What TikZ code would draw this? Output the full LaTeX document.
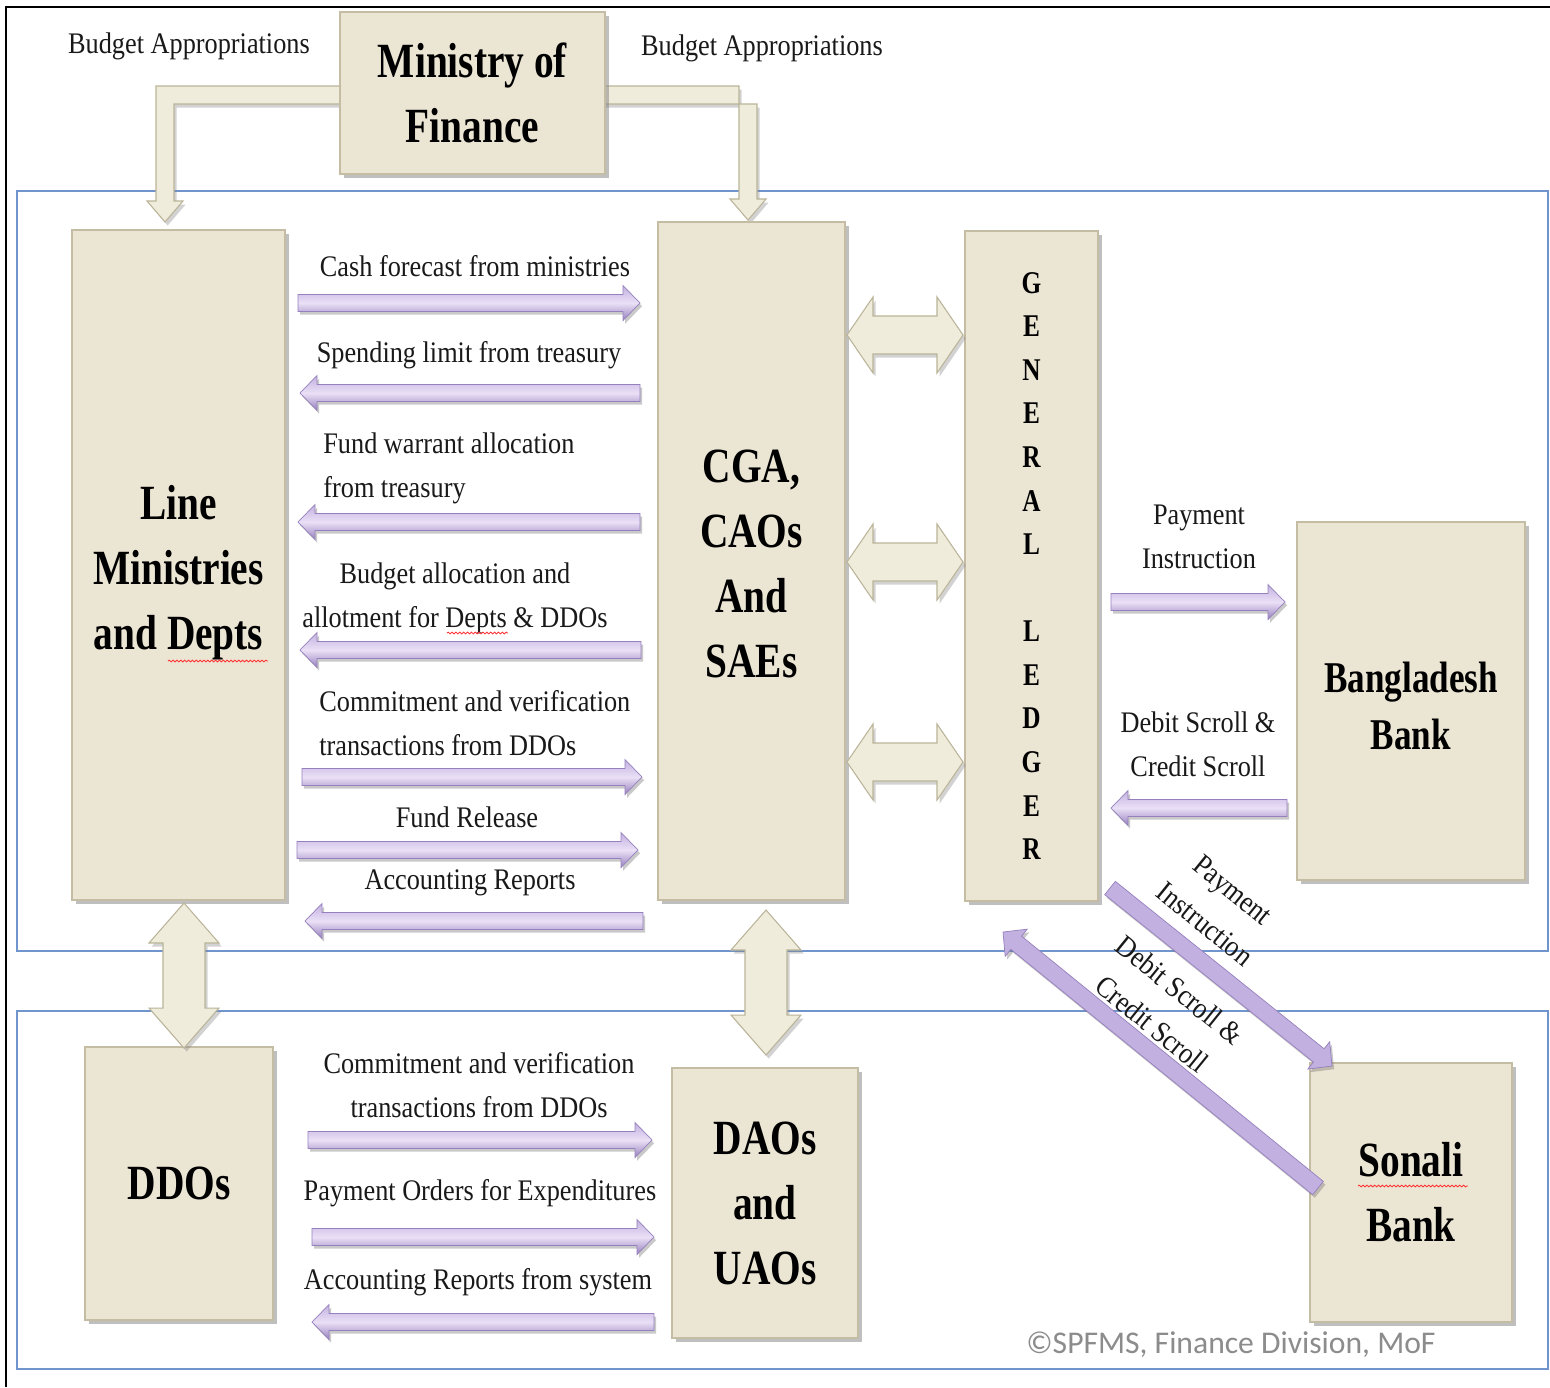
\documentclass[tikz,border=0pt]{standalone}
\usepackage{fontspec}
\setmainfont{Liberation Serif}
\newfontfamily\labfont[FakeStretch=0.88]{Liberation Serif}
\newfontfamily\ttlfont[FakeStretch=0.8]{Liberation Serif}
\newfontfamily\cpfont{Carlito}
\usetikzlibrary{calc,shadows,decorations.pathmorphing}
\definecolor{boxF}{RGB}{235,229,211}
\definecolor{boxB}{RGB}{196,189,164}
\definecolor{purL}{RGB}{234,224,246}
\definecolor{purM}{RGB}{194,176,224}
\definecolor{purD}{RGB}{150,128,190}
\definecolor{bgeF}{RGB}{240,236,220}
\definecolor{bgeB}{RGB}{186,180,152}
\definecolor{panB}{RGB}{112,148,204}
% block arrow: #1 style, #2 start, #3 end, #4 half shaft, #5 half head, #6 head length
\newcommand\blockarr[6]{%
  \coordinate (bah) at ($(#3)!#6!(#2)$);
  \path[#1] ($(#2)!#4!90:(#3)$) -- ($(bah)!#4!90:(#3)$) -- ($(bah)!#5!90:(#3)$) -- (#3)
    -- ($(bah)!#5!-90:(#3)$) -- ($(bah)!#4!-90:(#3)$) -- ($(#2)!#4!-90:(#3)$) -- cycle;}
% double block arrow
\newcommand\dblarr[6]{%
  \coordinate (dah) at ($(#2)!#6!(#3)$);
  \coordinate (dae) at ($(#3)!#6!(#2)$);
  \path[#1] (#2) -- ($(dah)!#5!90:(#3)$) -- ($(dah)!#4!90:(#3)$) -- ($(dae)!#4!90:(#3)$)
    -- ($(dae)!#5!90:(#3)$) -- (#3) -- ($(dae)!#5!-90:(#3)$) -- ($(dae)!#4!-90:(#3)$)
    -- ($(dah)!#4!-90:(#3)$) -- ($(dah)!#5!-90:(#3)$) -- cycle;}
\begin{document}
\begin{tikzpicture}[x=0.02cm,y=-0.02cm,
  box/.style={draw=boxB, line width=0.7pt, fill=boxF, inner sep=0pt, align=center,
    drop shadow={shadow xshift=2.2pt, shadow yshift=-2.5pt, opacity=0.5, fill=black!50}},
  ttl/.style={font=\ttlfont\bfseries\fontsize{28}{37}\selectfont},
  lab/.style={font=\labfont\fontsize{17}{25}\selectfont, inner sep=0pt, align=center, text=black!90},
  parr/.style={draw=purD, line width=0.4pt, top color=purM, bottom color=purD, middle color=purL,
    drop shadow={shadow xshift=1.2pt, shadow yshift=-1.8pt, opacity=0.35, fill=black!60}},
  pdiag/.style={draw=purD, line width=0.4pt, fill=purM,
    drop shadow={shadow xshift=1.2pt, shadow yshift=-1.8pt, opacity=0.35, fill=black!60}},
  barr/.style={draw=bgeB, line width=0.6pt, fill=bgeF,
    drop shadow={shadow xshift=1.5pt, shadow yshift=-2pt, opacity=0.35, fill=black!50}},
  panel/.style={draw=panB, line width=1.3pt},
  squig/.style={draw=red!80, line width=0.5pt, decorate, decoration={snake, amplitude=0.5pt, segment length=2.2pt}}
]
\useasboundingbox (0,0) rectangle (1550,1387);
\fill[white] (0,0) rectangle (1550,1387);
% frame and panels
\draw[line width=1.7pt] (6,1387) -- (6,7) -- (1550,7);
\draw[panel] (17,191) rectangle (1548,951);
\draw[panel] (17,1011) rectangle (1548,1369);

% elbow arrows from Ministry of Finance
\coordinate (elbL) at (165,222);
\coordinate (elbR) at (748,220);
\path[barr] (345,86) -- (156,86) -- (156,201) -- (147,201) -- (elbL) -- (183,201) -- (174,201) -- (174,104) -- (345,104) -- cycle;
\path[barr] (600,86) -- (739,86) -- (739,199) -- (730,199) -- (elbR) -- (766,199) -- (757,199) -- (757,104) -- (600,104) -- cycle;

% boxes
\node[box, ttl, minimum width=5.3cm, minimum height=3.24cm] (mof) at (472.5,93) {Ministry of\\Finance};
\node[box, ttl, minimum width=4.26cm, minimum height=13.4cm] (lm) at (178.5,565) {\rule{0pt}{28pt}Line\\Ministries\\and Depts};
\node[box, ttl, minimum width=3.74cm, minimum height=13.56cm] (cga) at (751.5,561) {\rule{0pt}{22pt}CGA,\\CAOs\\And\\SAEs};
\node[box, minimum width=2.66cm, minimum height=13.4cm, font=\ttlfont\bfseries\fontsize{18}{24.8}\selectfont] (gl) at (1031.5,566) {G\\E\\N\\E\\R\\A\\L\\[24.8pt]L\\E\\D\\G\\E\\R};
\node[box, minimum width=4.56cm, minimum height=7.16cm, font=\ttlfont\bfseries\fontsize{25}{32.3}\selectfont] (bb) at (1411,701) {\rule{0pt}{23pt}Bangladesh\\Bank};
\node[box, ttl, minimum width=3.76cm, minimum height=5.46cm] (ddo) at (179,1183.5) {DDOs};
\node[box, ttl, minimum width=3.72cm, minimum height=5.4cm] (dao) at (765,1203) {DAOs\\and\\UAOs};
\node[box, ttl, minimum width=4.04cm, minimum height=5.18cm] (sb) at (1411,1192.5) {Sonali\\Bank};

% beige double arrows
\coordinate (d1a) at (847,335);  \coordinate (d1b) at (963,335);
\coordinate (d2a) at (847,562);  \coordinate (d2b) at (963,562);
\coordinate (d3a) at (847,762);  \coordinate (d3b) at (963,762);
\coordinate (v1a) at (184,903);  \coordinate (v1b) at (184,1048);
\coordinate (v2a) at (766,910);  \coordinate (v2b) at (766,1055);
\dblarr{barr}{d1a}{d1b}{0.38cm}{0.76cm}{0.52cm}
\dblarr{barr}{d2a}{d2b}{0.38cm}{0.76cm}{0.52cm}
\dblarr{barr}{d3a}{d3b}{0.38cm}{0.76cm}{0.52cm}
\dblarr{barr}{v1a}{v1b}{0.42cm}{0.7cm}{0.8cm}
\dblarr{barr}{v2a}{v2b}{0.42cm}{0.7cm}{0.8cm}

% purple arrows
\coordinate (a1s) at (298,303);  \coordinate (a1e) at (640,303);
\coordinate (a2s) at (640,393);  \coordinate (a2e) at (300,393);
\coordinate (a3s) at (640,522);  \coordinate (a3e) at (298,522);
\coordinate (a4s) at (641,650);  \coordinate (a4e) at (300,650);
\coordinate (a5s) at (302,777);  \coordinate (a5e) at (642,777);
\coordinate (a6s) at (297,850);  \coordinate (a6e) at (638,850);
\coordinate (a7s) at (643,921);  \coordinate (a7e) at (305,921);
\coordinate (a8s) at (308,1140); \coordinate (a8e) at (652,1140);
\coordinate (a9s) at (312,1237); \coordinate (a9e) at (654,1237);
\coordinate (a10s) at (654,1322); \coordinate (a10e) at (312,1322);
\coordinate (a11s) at (1111,602); \coordinate (a11e) at (1285,602);
\coordinate (a12s) at (1287,808); \coordinate (a12e) at (1111,808);
\coordinate (a13s) at (1110,888); \coordinate (a13e) at (1332,1066);
\coordinate (a14s) at (1318,1188); \coordinate (a14e) at (1003,932);
\foreach \i in {1,...,12}{\blockarr{parr}{a\i s}{a\i e}{0.17cm}{0.35cm}{0.34cm}}
\blockarr{pdiag}{a13s}{a13e}{0.17cm}{0.35cm}{0.34cm}
\blockarr{pdiag}{a14s}{a14e}{0.17cm}{0.35cm}{0.34cm}

% labels
\node[lab] (ba1) at (189,46) {Budget Appropriations};
\node[lab] (ba2) at (762,48) {Budget Appropriations};
\node[lab] (l1) at (475,266) {Cash forecast from ministries};
\node[lab] (l2) at (469,355) {Spending limit from treasury};
\node[lab, align=left, anchor=west] (l3) at (323,468) {Fund warrant allocation\\from treasury};
\node[lab] (l4) at (455,598) {Budget allocation and\\allotment for Depts \& DDOs};
\node[lab, align=left, anchor=west] (l5) at (319,723) {Commitment and verification\\transactions from DDOs};
\node[lab] (l6) at (467,817) {Fund Release};
\node[lab] (l7) at (470,883) {Accounting Reports};
\node[lab] (l8) at (479,1085) {Commitment and verification\\transactions from DDOs};
\node[lab] (l9) at (480,1193) {Payment Orders for Expenditures};
\node[lab] (l10) at (478,1282) {Accounting Reports from system};
\node[lab] (l11) at (1199,537) {Payment\\Instruction};
\node[lab] (l12) at (1198,744) {Debit Scroll \&\\Credit Scroll};
\node[lab, rotate=-39] (l13) at (1219,907) {Payment\\Instruction};
\node[lab, rotate=-39] (l14) at (1166,1007) {Debit Scroll \&\\Credit Scroll};
\node[font=\cpfont\fontsize{18}{20}\selectfont, text=black!45, inner sep=0pt] (cp) at (1231,1345) {©SPFMS, Finance Division, MoF};

% spell-check squiggles
\draw[squig] (168,661) -- (268,661);
\draw[squig] (447,633) -- (508,633);
\draw[squig] (1358,1186) -- (1468,1186);
\end{tikzpicture}
\end{document}
